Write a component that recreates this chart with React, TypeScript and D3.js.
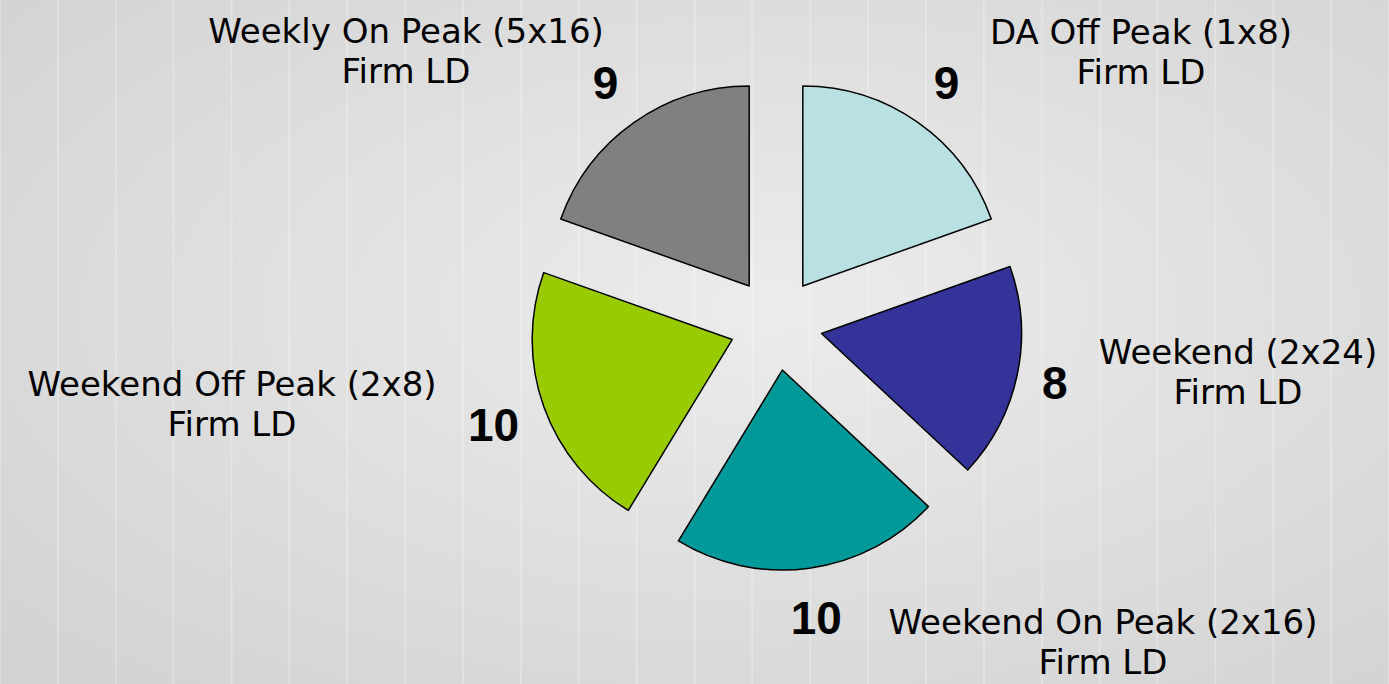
import React, { useEffect, useRef } from 'react';
import * as d3 from 'd3';

// slice order follows the chart, clockwise from 12 o'clock
const categories = [
  'DA Off Peak (1x8)',
  'Weekend (2x24)',
  'Weekend On Peak (2x16)',
  'Weekend Off Peak (2x8)',
  'Weekly On Peak (5x16)',
];
const values = [9, 8, 10, 10, 9];
const subLabel = 'Firm LD';

const colors = ['#b9e0e3', '#333399', '#009999', '#99cc00', '#808080'];

// hand-placed category text boxes (centre x, first baseline y)
const captionPos: [number, number][] = [
  [1141, 44],
  [1238, 364],
  [1103, 634],
  [232, 396],
  [406, 43],
];

const W = 1389;
const H = 684;

export default function App() {
  const svgRef = useRef<SVGSVGElement>(null);

  useEffect(() => {
    if (!svgRef.current) return;
    const svg = d3.select(svgRef.current);
    svg.selectAll('*').remove();

    // background, something like the faded trading chart
    const defs = svg.append('defs');
    const grad = defs.append('radialGradient')
      .attr('id', 'bg')
      .attr('cx', '55%').attr('cy', '45%').attr('r', '75%');
    grad.append('stop').attr('offset', '0%').attr('stop-color', '#ececec');
    grad.append('stop').attr('offset', '100%').attr('stop-color', '#d2d2d2');
    svg.append('rect').attr('width', W).attr('height', H).attr('fill', 'url(#bg)');

    const gx = d3.scaleLinear().domain([0, 24]).range([0, W]);
    svg.append('g')
      .selectAll('line')
      .data(gx.ticks(24))
      .enter()
      .append('line')
      .attr('x1', d => gx(d)).attr('x2', d => gx(d))
      .attr('y1', 0).attr('y2', H)
      .attr('stroke', '#ffffff')
      .attr('stroke-opacity', 0.25)
      .attr('stroke-width', 2);

    const cx = 776;
    const cy = 324;
    const radius = 200;
    const explode = 46.5;
    const labelGap = 267;

    const pie = d3.pie<number>().value(d => d).sort(null);
    const arc = d3.arc<d3.PieArcDatum<number>>().innerRadius(0).outerRadius(radius);
    const arcs = pie(values);

    const g = svg.append('g').attr('transform', `translate(${cx},${cy})`);

    g.selectAll('path')
      .data(arcs)
      .enter()
      .append('path')
      .attr('d', arc)
      .attr('transform', d => {
        const a = (d.startAngle + d.endAngle) / 2;
        return `translate(${Math.sin(a) * explode},${-Math.cos(a) * explode})`;
      })
      .attr('fill', (d, i) => colors[i])
      .attr('stroke', '#000')
      .attr('stroke-width', 1.5)
      .attr('stroke-linejoin', 'round');

    // value labels sit outside, pushed out by their own box size (like Excel)
    g.selectAll('text.val')
      .data(arcs)
      .enter()
      .append('text')
      .attr('class', 'val')
      .attr('transform', d => {
        const a = (d.startAngle + d.endAngle) / 2;
        const hw = String(d.data).length * 12.8;
        const hh = 26;
        const dist = labelGap + hw * Math.abs(Math.sin(a)) + hh * Math.abs(Math.cos(a));
        return `translate(${Math.sin(a) * dist},${-Math.cos(a) * dist})`;
      })
      .attr('text-anchor', 'middle')
      .attr('dy', '0.36em')
      .attr('font-family', '"Liberation Sans", Arial, sans-serif')
      .attr('font-weight', 'bold')
      .attr('font-size', '46px')
      .attr('fill', '#000')
      .text(d => d.data);

    const cap = svg.append('g')
      .attr('font-family', '"Comic Sans MS", "DejaVu Sans", sans-serif')
      .attr('font-size', '34px')
      .attr('fill', '#000')
      .attr('text-anchor', 'middle');

    categories.forEach((c, i) => {
      const [x, y] = captionPos[i];
      const t = cap.append('text').attr('x', x).attr('y', y);
      t.append('tspan').attr('x', x).text(c);
      t.append('tspan').attr('x', x).attr('dy', 40).text(subLabel);
    });
  }, []);

  return (
    <svg
      ref={svgRef}
      width={W}
      height={H}
      style={{ position: 'absolute', left: 0, top: 0, display: 'block' }}
    />
  );
}
